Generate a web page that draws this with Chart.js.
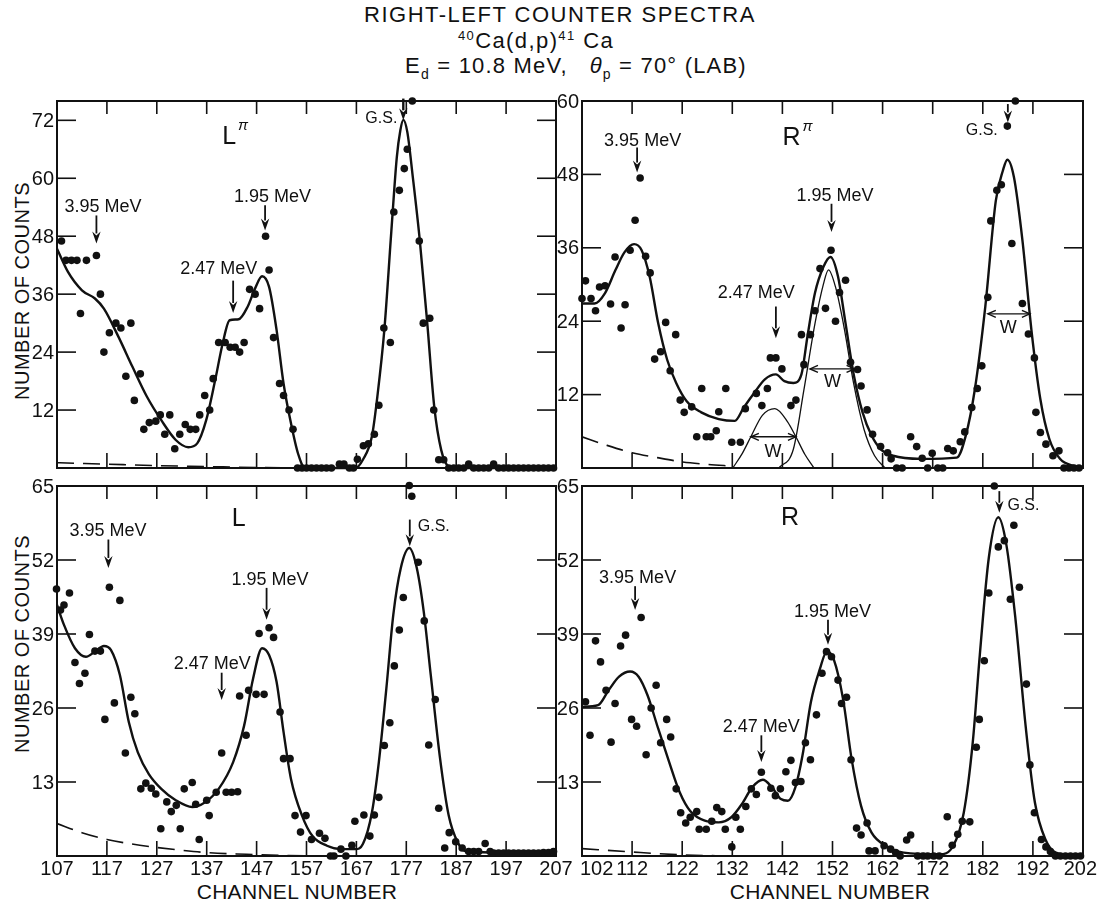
<!DOCTYPE html>
<html>
<head>
<meta charset="utf-8">
<script src="https://cdn.jsdelivr.net/npm/chart.js@4.4.0/dist/chart.umd.min.js"></script>
<style>
  body { margin: 0; background: #fff; color: #111; font-family: "Liberation Sans", Arial, sans-serif; }
  #page { position: relative; width: 1097px; height: 902px; overflow: hidden; background: #fff; }
  canvas { position: absolute; }
  .t { position: absolute; white-space: nowrap; font-size: 22px; line-height: 22px; transform: translateX(-50%); }
  .t sup { font-size: 13px; vertical-align: 8px; line-height: 0; }
  .t sub { font-size: 14px; vertical-align: -6px; line-height: 0; }
  .ylab { position: absolute; white-space: nowrap; font-size: 20px; line-height: 20px; transform: translate(-50%, -50%) rotate(-90deg); letter-spacing: 0.5px; }
  .xlab { position: absolute; white-space: nowrap; font-size: 21px; line-height: 21px; transform: translate(-50%, -50%); letter-spacing: 0.3px; }
</style>
</head>
<body>
<div id="page">
  <div class="t" style="left:560px; top:4px; letter-spacing:1.5px;">RIGHT-LEFT COUNTER SPECTRA</div>
  <div class="t" style="left:536px; top:30px; letter-spacing:1.4px;"><sup>40</sup>Ca(d,p)<sup>41</sup> Ca</div>
  <div class="t" style="left:576px; top:55px; letter-spacing:1.2px;">E<sub>d</sub> = 10.8 MeV,&nbsp;&nbsp; <i>θ</i><sub>p</sub> = 70° (LAB)</div>
  <div class="ylab" style="left:22px; top:291px;">NUMBER OF COUNTS</div>
  <div class="ylab" style="left:22px; top:644px;">NUMBER OF COUNTS</div>
  <div class="xlab" style="left:297px; top:891px;">CHANNEL NUMBER</div>
  <div class="xlab" style="left:830px; top:891px;">CHANNEL NUMBER</div>
</div>
<script>
// ejes
const LEFT_X_TICKS = [107, 117, 127, 137, 147, 157, 167, 177, 187, 197, 207];
const RIGHT_X_TICKS = [102, 112, 122, 132, 142, 152, 162, 172, 182, 192, 202];
const Y_TICKS_LPI = [12, 24, 36, 48, 60, 72];
const Y_TICKS_RPI = [12, 24, 36, 48, 60];
const Y_TICKS_LR = [13, 26, 39, 52, 65];

// L pi : puntos medidos
const LPI_CH = [107.9,108.8,109.9,111.0,111.7,112.9,114.9,115.7,116.4,117.5,118.8,119.8,120.8,121.8,122.5,123.7,124.4,125.5,126.8,127.7,
  128.6,129.6,130.6,131.6,132.7,133.7,134.8,135.6,136.6,137.6,138.3,139.4,140.7,141.7,142.7,143.6,144.5,145.6,146.7,147.6,
  148.8,149.5,150.4,151.6,152.4,153.5,154.3,
  155.2,156.1,157,158,159,160,161,162,163.6,164.5,165.6,166.4,167.2,168.4,169.4,170.6,171.5,172.5,173.8,174.5,
  175.6,176.6,177.2,178.2,179.6,180.4,181.7,182.5,183.5,184.5,
  185.5,186.5,187.5,188.5,189.5,190.5,191.5,192.5,193.5,194.5,195.5,196.5,197.5,198.5,199.5,200.5,201.5,202.5,203.5,204.5,205.5,206.5];
const LPI_N = [47,43,43,43,32,43,44,36,24,28,30,29,19,30,14,19.5,8,9.4,9.7,11,
  7,11,4,7,9,8,8,11,15,12,18.5,26,26,25,25,24,26,37,36,33,
  48,41,27,17.5,15,12,8,
  0,0,0,0,0,0,0,0,0.8,0.8,0,0,1.8,4.6,5,7,13,29,26,53,
  57.5,62,66,76,47,30,31,12,1.7,1.7,
  0,0,0,0,0.8,0,0,0,0,0.8,0,0,0,0,0,0,0,0,0,0,0,0];
// L pi : curva ajustada y fondo
const LPI_FIT_CH = [107,109.2,112,114.6,116.4,119.3,122.1,125,127.9,130.8,133.3,135.1,136.9,138.7,140.2,141.6,143.4,145.2,146.7,148.1,
  149.5,151,152.4,153.9,155.3,156.7,166.8,168.3,170.1,171.2,172.6,174,175.1,175.8,176.4,177.2,178.3,179.7,181.2,182.6,184,185.5,187,207];
const LPI_FIT_N = [45.4,40.6,36.8,35.1,33,27.2,21,14.8,9.9,5.8,4.3,5.1,9.9,18.2,25.8,30.6,30.8,33.4,37.2,39.7,
  37.5,28.6,17.5,9.2,3,0,0,1.7,6.5,14.8,28.6,49,64.4,69.9,72.1,69.6,60.3,47.2,30,12.7,3.7,0.3,0,0];
const LPI_BG_CH = [107, 117, 127, 137, 147, 157];
const LPI_BG_N = [1.1, 0.8, 0.5, 0.3, 0.1, 0];

// R pi
const RPI_CH = [102,102.7,103.8,104.7,105.5,106.6,107.7,108.6,109.8,110.6,111.6,112.6,113.6,114.7,115.6,116.5,117.7,118.7,119.6,120.7,
  121.6,122.4,123.9,124.9,125.9,126.8,127.7,128.8,129.3,130.7,131.9,133.6,134.6,136.8,137.9,139,139.6,140.7,141.9,143.7,
  144.7,145.8,146.3,147.6,148.5,149.5,150.6,151.7,152.6,153.4,154.6,155.6,157,157.7,158.9,160,161.6,163,163.7,164.8,
  165.9,167.6,168.8,169.9,171,171.9,173,174,175,176.1,177.5,178.4,179.8,180.9,181.8,183,183.6,184.8,185.7,186.9,
  187.8,188.5,189.9,191.1,192.3,192.6,193.5,194.6,196,197.2,198.2,199.2,200.2,201.2];
const RPI_N = [27.7,30.6,27.7,25.7,29.6,29.8,26.8,34.5,22.9,26.7,35.6,40.5,47.4,34.6,31.9,17.8,19,23.8,15.9,21.8,
  11.1,9.1,10,5.1,13,5.1,5.1,6.1,9.2,13,4.2,4.2,9.7,12.2,10.2,13,18,18,16.2,10.2,
  11.1,21.8,16.9,21.8,25.7,32.6,26.1,35.6,24,28.7,30.7,17.3,16.1,13.4,9.5,5.5,3.5,2.5,1.5,0,
  0,5.1,3.5,1.6,0,2.4,0,0,3.2,2.8,4.3,5.9,9.9,13,16.7,27.9,40.4,45.4,46.3,55.9,
  36.7,60,26.9,21.9,18,9.1,5.8,3.9,2,2.8,0,0,0,0];
const RPI_FIT_CH = [102,104.5,106.6,108.7,110.5,112.4,113.9,115.5,117.2,119,120.8,122.9,125.8,129.3,132.5,134.3,136.4,138.5,140.7,142.4,
  144.2,145.8,147,148.5,150.2,151.6,153.1,154.5,156.3,158,159.8,161.6,164.1,169.7,176.8,178.6,180.4,182.5,184.6,186,
  186.9,188.2,189.9,191.7,193.5,195.3,197.4,200.3,202];
const RPI_FIT_N = [26.9,26.9,28.6,32.4,35.3,36.6,35.6,31.3,23.7,17.7,13.9,10.9,9.1,8,7.7,9.9,12.3,14.5,15.3,14.2,
  13.9,15.3,21.5,28.6,32.9,34.5,31.3,24.2,15,9.1,5.3,3.1,2,1.5,1.7,5.3,12.8,26.4,43.7,48.6,
  50.4,47.6,37.3,22.6,11.2,4.7,1.5,0.3,0];
// componentes 2.47 y 1.95 MeV
const RPI_C1_CH = [132.1,134,135.7,138,140.5,143,144.7,146.5,148.3];
const RPI_C1_N = [0,2.4,5.1,8.6,9.7,7.6,5.1,2.2,0];
const RPI_C2_CH = [141.3,144.2,146.3,148.5,150.2,151.2,152.6,154.4,156.2,158.3,160.4,162.5];
const RPI_C2_N = [0,3.1,12.8,23.6,30.1,32.4,29.6,22.6,13.9,6.3,2,0];
const RPI_BG_CH = [102, 107, 112, 117, 122, 127, 132];
const RPI_BG_N = [5.1, 3.7, 2.5, 1.7, 1, 0.6, 0.3];

// L
const L_CH = [106.9,107.7,108.4,109.5,110.6,111.5,112.6,113.5,114.6,115.7,116.6,117.5,118.5,119.6,120.7,121.8,122.6,123.8,124.8,125.9,
  126.8,127.8,129,129.9,130.9,131.7,132.5,134.1,134.8,135.5,137,137.5,138.9,140,140.9,142,143.2,143.6,144.9,145.4,
  146.9,147.5,148.5,149.5,150.4,151.7,152.4,153.7,154.7,155.8,156.9,158,159.6,160.7,161.8,162.5,163.9,164.9,166.1,166.7,
  168.5,169.7,170.6,171.5,172.6,173.7,174.6,175.6,176.4,177.6,178.1,179.4,180.6,181.5,182.8,183.5,184.7,185.6,186.9,188.2,
  189.5,190.5,191.5,192.8,193.8,194.5,195.5,196.5,197.5,198.5,199.5,200.5,201.5,202.5,203.5,204.5,205.5,206.5];
const L_N = [46.9,43.2,44.1,46.2,34,30.3,32.1,38.9,36,36,24,47.2,26.9,44.9,18.1,27.9,25,11.8,12.8,11.9,
  10.9,4.8,9.5,7.8,8.9,4.8,11.8,12.9,9.1,2.9,9.8,7.1,11.2,18.1,11.2,11.2,11.3,28.1,21.2,29.1,
  28.4,39.1,28.4,40.1,38.4,25.3,17.1,17.1,7.1,4.2,7.1,2.9,4,3.1,0,0,1.2,0,1.9,6.1,
  7.2,3.5,7.2,10.3,19.4,23.4,33.4,39.7,45.4,65.1,63.2,51.6,41.3,19.5,27.5,8.4,1.4,4.1,2.5,1.4,
  0.8,0.8,0.8,2.2,0.8,0.5,0.5,0.5,0.5,0.5,0.5,0.5,0.5,0.5,0.5,0.6,0.6,0.8];
const L_FIT_CH = [107,108.4,110.6,112.8,114.6,116.4,117.8,119.6,121.4,123.2,125.4,127.9,130.8,134.1,136.6,139.4,142.3,144.5,146.3,148.1,
  149.5,151,152.4,153.9,156.1,158.2,161.1,164,166.8,168.3,170.1,171.5,173,174.4,175.9,177.6,179.1,180.5,181.9,183.7,
  185.5,187.3,189.1,206.9];
const L_FIT_N = [44.1,40.6,36.5,35,35.9,36.9,36.2,31.8,23.5,18.2,14.4,11.8,9.8,8.6,9.4,11.8,16.5,22.9,31.2,36.5,
  35.3,30.6,21.8,13.5,7.1,3.5,1.8,1.2,1.2,2.1,7.6,16.5,29.4,42.4,50.6,54.1,50.6,42.9,31.8,17.6,
  7.1,2.4,0.8,0.5];
const L_BG_CH = [107, 112, 117, 122, 127, 132, 137, 145, 152, 160];
const L_BG_N = [5.7, 4.1, 2.9, 2.1, 1.5, 1, 0.6, 0.3, 0.1, 0];

// R
const R_CH = [102.7,103.6,104.7,105.7,106.8,107.8,108.6,109.7,110.7,111.9,112.9,113.8,114.8,115.8,116.8,117.7,118.9,119.7,120.8,121.7,
  122.7,123.6,124.9,125.4,126.8,127.9,128.9,129.9,130.6,131.9,132.7,133.6,134.7,135.8,136.8,137.8,139.7,140.6,141.6,142.7,
  143.7,144.6,145.7,146.6,147.6,148.8,149.9,150.8,151.8,153.1,153.8,154.8,155.7,156.8,157.7,158.9,159.3,160.5,162.3,163.6,
  164.6,165.5,166.8,167.6,169,170.1,171,172.2,173.3,174.9,175.9,177,177.9,179.4,180.7,181.3,182.3,183.2,184.3,185.1,
  186.3,187.5,188.2,189.3,190.7,191.4,192.3,193.7,194.6,195.5,196.5,197.5,198.5,199.5,200.5,201.5];
const R_N = [27.1,21.2,37.8,34.1,29.1,20,26.8,36.9,38.8,24,22.8,41.9,17.8,26,30,19.9,24,20.9,11.8,7.6,
  5.8,6.8,7.8,4.7,4.7,6.1,8.5,7.8,4.7,1.6,6.8,4.7,8.7,11.8,10.8,14.7,11.9,10.6,11.8,14.8,
  16.8,12.9,13.1,19.9,16.9,24.8,32.1,35.9,35,30.9,26.8,27.9,16.9,4.9,3.7,5.8,0.9,0.9,1.8,1.2,
  0.6,0,2.8,3.7,0,0,0,0,0,6.9,1.9,3.8,6.1,6,19.1,24,34.3,46.2,65,54.3,
  55.4,45.1,58.1,47.2,30.2,16,7.6,2.9,1.6,0.8,0,0,0,0,0,0];
const R_FIT_CH = [102,105.2,107.3,109.4,111.6,113.3,115.1,117.2,119.4,121.5,123.6,126.5,129.3,131.8,133.9,136,138.1,139.9,141.7,143.1,
  144.6,146,147.7,149.5,150.9,152.3,154.1,155.8,157.7,159.8,162.6,166.2,173.3,176.1,178.2,180,181.4,183.2,185.1,186.7,
  188.5,190.6,192.4,194.5,196.6,202];
const R_FIT_N = [26.2,26.5,29.1,31.5,32.4,31.5,28.2,22.4,16.5,11.2,7.9,6.2,5.9,6.8,9.1,12.1,13.4,12.1,10,9.7,
  12.1,17.6,27.1,32.9,36,34.4,27.6,17.1,8.8,4.1,1.8,0.6,0.3,1.8,7.6,20,35.3,52.4,59.5,54.7,
  41.8,22.4,9.4,2.9,0.6,0];
const R_BG_CH = [102, 112, 122, 132];
const R_BG_N = [1.3, 0.7, 0.2, 0];

const FONT = '"Liberation Sans", Arial, sans-serif';
const INK = '#111';
// margenes del canvas alrededor del area del grafico
const M = { left: 52, right: 16, top: 24, bottom: 42 };

const toPts = (xs, ys) => xs.map((v, i) => ({ x: v, y: ys[i] }));

const line = (ctx, x0, y0, x1, y1) => {
  ctx.beginPath(); ctx.moveTo(x0, y0); ctx.lineTo(x1, y1); ctx.stroke();
};

// flecha vertical hacia abajo
const arrowDown = (ctx, x, yTop, yBot, lw) => {
  const head = 12, hw = 4.2;
  ctx.lineWidth = lw || 1.8;
  line(ctx, x, yTop, x, yBot - head + 2);
  ctx.beginPath();
  ctx.moveTo(x - hw, yBot - head);
  ctx.lineTo(x, yBot - head + 4);
  ctx.lineTo(x + hw, yBot - head);
  ctx.lineTo(x, yBot);
  ctx.closePath(); ctx.fill();
};

// flecha doble horizontal (W)
const arrowBoth = (ctx, x0, x1, y) => {
  const head = 8, hw = 3.5;
  ctx.lineWidth = 1.4;
  line(ctx, x0, y, x1, y);
  ctx.beginPath();
  ctx.moveTo(x0 + head, y - hw); ctx.lineTo(x0, y); ctx.lineTo(x0 + head, y + hw);
  ctx.moveTo(x1 - head, y - hw); ctx.lineTo(x1, y); ctx.lineTo(x1 - head, y + hw);
  ctx.stroke();
};

const decoPlugin = (cfg) => ({
  id: 'deco',
  beforeDatasetsDraw(chart) {
    const { ctx, chartArea: a, scales: { x, y } } = chart;
    ctx.save();
    ctx.strokeStyle = INK; ctx.fillStyle = INK;
    ctx.lineWidth = 2;
    ctx.strokeRect(a.left, a.top, a.right - a.left, a.bottom - a.top);
    ctx.lineWidth = 1.6;
    cfg.yTicks.forEach(v => {
      const py = y.getPixelForValue(v);
      line(ctx, a.left, py, a.left + 19, py);
      line(ctx, a.right - 19, py, a.right, py);
    });
    cfg.xTicks.forEach(v => {
      if (v <= x.min || v >= x.max) return;
      const px = x.getPixelForValue(v);
      line(ctx, px, a.top, px, a.top + 13);
      line(ctx, px, a.bottom - 15, px, a.bottom);
    });
    ctx.font = '20px ' + FONT;
    ctx.textAlign = 'right'; ctx.textBaseline = 'middle';
    cfg.yTicks.forEach(v => ctx.fillText(String(v), a.left - 3, y.getPixelForValue(v) + 1));
    if (cfg.xLabels) {
      ctx.textBaseline = 'middle';
      const last = cfg.xTicks.length - 1;
      cfg.xTicks.forEach((v, i) => {
        const px = x.getPixelForValue(v);
        if (i === 0 && cfg.edgeLabels) { ctx.textAlign = 'left'; ctx.fillText(String(v), px - 2, a.bottom + 13); }
        else if (i === last && cfg.edgeLabels) { ctx.textAlign = 'right'; ctx.fillText(String(v), px + 14, a.bottom + 13); }
        else { ctx.textAlign = 'center'; ctx.fillText(String(v), px, a.bottom + 13); }
      });
    }
    ctx.restore();
  },
  afterDatasetsDraw(chart) {
    const { ctx, scales: { x, y } } = chart;
    ctx.save();
    ctx.strokeStyle = INK; ctx.fillStyle = INK;
    // etiqueta del panel
    const lb = cfg.label;
    ctx.font = '25px ' + FONT;
    ctx.textAlign = 'center'; ctx.textBaseline = 'middle';
    const lx = x.getPixelForValue(lb.x), ly = y.getPixelForValue(lb.y);
    ctx.fillText(lb.text, lx, ly);
    if (lb.sup) {
      const w = ctx.measureText(lb.text).width;
      ctx.font = 'italic 15px ' + FONT;
      ctx.textAlign = 'left';
      ctx.fillText(lb.sup, lx + w / 2 + 2, ly - 11);
    }
    // textos de energia
    ctx.textAlign = 'center';
    cfg.notes.forEach(n => {
      ctx.font = (n.size || 18) + 'px ' + FONT;
      ctx.fillText(n.t, x.getPixelForValue(n.x), y.getPixelForValue(n.y));
    });
    cfg.arrows.forEach(r => {
      arrowDown(ctx, x.getPixelForValue(r.x), y.getPixelForValue(r.y0), y.getPixelForValue(r.y1), r.lw);
    });
    (cfg.widths || []).forEach(wd => {
      arrowBoth(ctx, x.getPixelForValue(wd.x0), x.getPixelForValue(wd.x1), y.getPixelForValue(wd.y));
      ctx.font = '18px ' + FONT;
      ctx.fillText('W', x.getPixelForValue(wd.lx), y.getPixelForValue(wd.ly));
    });
    ctx.restore();
  }
});

const makePanel = (box, xMin, xMax, yMax, series, cfg) => {
  const cv = document.createElement('canvas');
  const w = box.right - box.left + M.left + M.right;
  const h = box.bottom - box.top + M.top + M.bottom;
  cv.width = w; cv.height = h;
  cv.style.left = (box.left - M.left) + 'px';
  cv.style.top = (box.top - M.top) + 'px';
  cv.style.width = w + 'px'; cv.style.height = h + 'px';
  document.getElementById('page').appendChild(cv);

  const datasets = [
    { data: toPts(series.ch, series.n), showLine: false, pointRadius: 3.8, pointBackgroundColor: INK, pointBorderWidth: 0, clip: false },
    { data: toPts(series.fitCh, series.fitN), showLine: true, pointRadius: 0, borderColor: INK, borderWidth: 2.4, cubicInterpolationMode: 'monotone', clip: false },
    { data: toPts(series.bgCh, series.bgN), showLine: true, pointRadius: 0, borderColor: INK, borderWidth: 1.6, borderDash: [17, 9], cubicInterpolationMode: 'monotone' }
  ];
  (series.parts || []).forEach(p => {
    datasets.push({ data: toPts(p[0], p[1]), showLine: true, pointRadius: 0, borderColor: INK, borderWidth: 1.3, cubicInterpolationMode: 'monotone' });
  });

  return new Chart(cv.getContext('2d'), {
    type: 'scatter',
    data: { datasets },
    options: {
      responsive: false,
      animation: false,
      devicePixelRatio: 1,
      layout: { padding: { left: M.left, right: M.right, top: M.top, bottom: M.bottom } },
      scales: {
        x: { type: 'linear', min: xMin, max: xMax, display: false },
        y: { type: 'linear', min: 0, max: yMax, display: false }
      },
      plugins: { legend: { display: false }, tooltip: { enabled: false } }
    },
    plugins: [decoPlugin(cfg)]
  });
};

// panel L pi (arriba izquierda)
makePanel({ left: 57, top: 101, right: 556, bottom: 468 }, 107, 207, 76,
  { ch: LPI_CH, n: LPI_N, fitCh: LPI_FIT_CH, fitN: LPI_FIT_N, bgCh: LPI_BG_CH, bgN: LPI_BG_N },
  {
    xTicks: LEFT_X_TICKS, yTicks: Y_TICKS_LPI, xLabels: false,
    label: { text: 'L', sup: 'π', x: 141.5, y: 68.5 },
    notes: [
      { t: '3.95 MeV', x: 116.2, y: 54.1 },
      { t: '1.95 MeV', x: 150.2, y: 56.1 },
      { t: '2.47 MeV', x: 139.4, y: 41.3 },
      { t: 'G.S.', x: 172.0, y: 72.3, size: 16 }
    ],
    arrows: [
      { x: 114.9, y0: 52.3, y1: 46.5 },
      { x: 148.7, y0: 54.4, y1: 49.2 },
      { x: 142.3, y0: 38.8, y1: 32.1 },
      { x: 176.4, y0: 76.5, y1: 72.0, lw: 2.4 }
    ]
  });

// panel R pi (arriba derecha)
makePanel({ left: 582, top: 101, right: 1083, bottom: 468 }, 102, 202, 60,
  { ch: RPI_CH, n: RPI_N, fitCh: RPI_FIT_CH, fitN: RPI_FIT_N, bgCh: RPI_BG_CH, bgN: RPI_BG_N,
    parts: [[RPI_C1_CH, RPI_C1_N], [RPI_C2_CH, RPI_C2_N]] },
  {
    xTicks: RIGHT_X_TICKS, yTicks: Y_TICKS_RPI, xLabels: false,
    label: { text: 'R', sup: 'π', x: 143.8, y: 54 },
    notes: [
      { t: '3.95 MeV', x: 114.1, y: 53.5 },
      { t: '1.95 MeV', x: 152.5, y: 44.4 },
      { t: '2.47 MeV', x: 136.8, y: 28.6 },
      { t: 'G.S.', x: 181.8, y: 55.1, size: 16 }
    ],
    arrows: [
      { x: 113.0, y0: 52.4, y1: 48.3 },
      { x: 151.8, y0: 43.2, y1: 38.6 },
      { x: 140.7, y0: 26.4, y1: 21.2 },
      { x: 187.0, y0: 59.5, y1: 56.5 }
    ],
    widths: [
      { x0: 147.5, x1: 156.4, y: 16.2, lx: 152.0, ly: 14.0 },
      { x0: 135.7, x1: 144.7, y: 5.1, lx: 140.1, ly: 2.6 },
      { x0: 183.0, x1: 191.4, y: 25.2, lx: 187.1, ly: 22.9 }
    ]
  });

// panel L (abajo izquierda)
makePanel({ left: 57, top: 486, right: 556, bottom: 856 }, 107, 207, 65,
  { ch: L_CH, n: L_N, fitCh: L_FIT_CH, fitN: L_FIT_N, bgCh: L_BG_CH, bgN: L_BG_N },
  {
    xTicks: LEFT_X_TICKS, yTicks: Y_TICKS_LR, xLabels: true,
    label: { text: 'L', x: 143.4, y: 59.1 },
    notes: [
      { t: '3.95 MeV', x: 117.2, y: 57.1 },
      { t: '1.95 MeV', x: 149.7, y: 48.5 },
      { t: '2.47 MeV', x: 138.1, y: 33.8 },
      { t: 'G.S.', x: 182.5, y: 57.9, size: 16 }
    ],
    arrows: [
      { x: 117.3, y0: 55.6, y1: 50.6 },
      { x: 149.0, y0: 47.1, y1: 41.5 },
      { x: 140.0, y0: 32.2, y1: 27.4 },
      { x: 177.7, y0: 59.1, y1: 54.4 }
    ]
  });

// panel R (abajo derecha)
makePanel({ left: 582, top: 486, right: 1083, bottom: 856 }, 102, 202, 65,
  { ch: R_CH, n: R_N, fitCh: R_FIT_CH, fitN: R_FIT_N, bgCh: R_BG_CH, bgN: R_BG_N },
  {
    xTicks: RIGHT_X_TICKS, yTicks: Y_TICKS_LR, xLabels: true, edgeLabels: true,
    label: { text: 'R', x: 143.5, y: 59.4 },
    notes: [
      { t: '3.95 MeV', x: 113.1, y: 48.8 },
      { t: '1.95 MeV', x: 152.0, y: 42.9 },
      { t: '2.47 MeV', x: 137.8, y: 22.6 },
      { t: 'G.S.', x: 190.1, y: 61.5, size: 16 }
    ],
    arrows: [
      { x: 112.6, y0: 47.4, y1: 43.2 },
      { x: 151.1, y0: 41.5, y1: 37.1 },
      { x: 137.8, y0: 21.2, y1: 16.5 },
      { x: 185.3, y0: 64.1, y1: 60.3 }
    ]
  });
</script>
</body>
</html>
